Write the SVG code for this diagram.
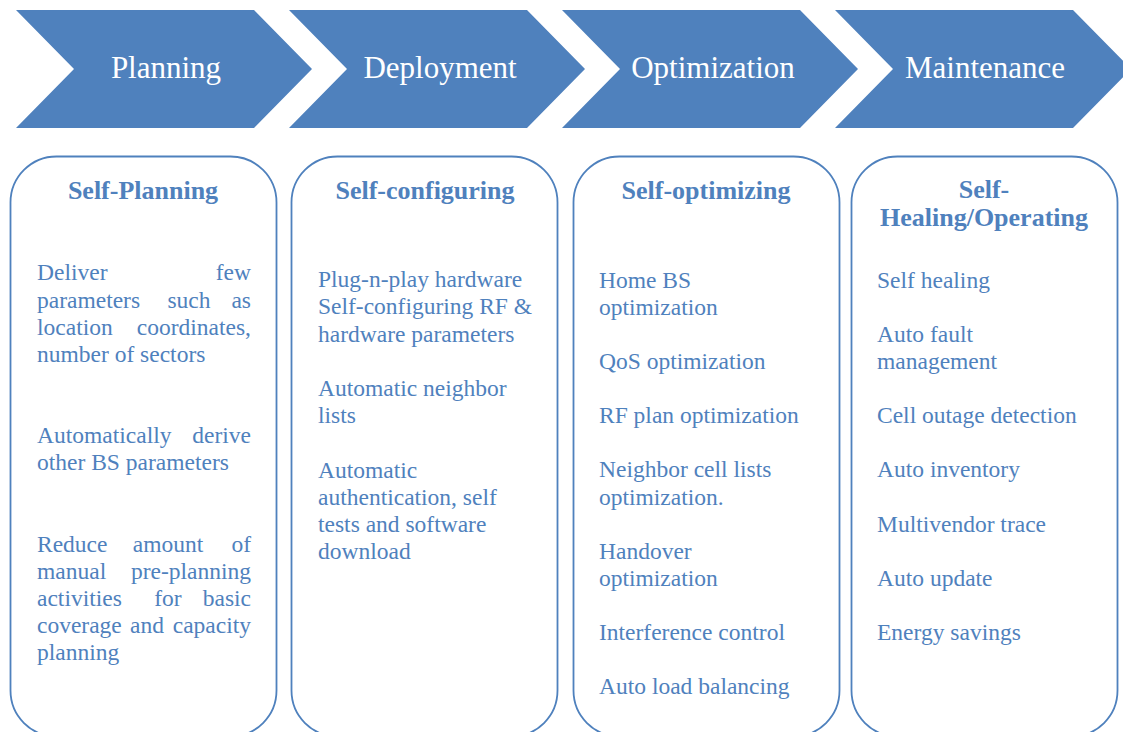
<svg xmlns="http://www.w3.org/2000/svg" width="1123" height="732" viewBox="0 0 1123 732">
<style>
.chev{fill:#4F81BD;}
.ct{font-family:"Liberation Serif",serif;font-size:31px;fill:#FFFFFF;text-anchor:middle;}
.box{fill:#FFFFFF;stroke:#4F81BD;stroke-width:1.8;}
.hd{font-family:"Liberation Serif",serif;font-size:26px;font-weight:bold;fill:#4F81BD;text-anchor:middle;}
.tx{font-family:"Liberation Serif",serif;font-size:23.5px;fill:#4F81BD;}
.e{text-anchor:end;}
.m{text-anchor:middle;}
</style>
<rect width="1123" height="732" fill="#FFFFFF"/>
<g id="stage-planning">
<polygon class="chev" points="16,10 254,10 312,69 254,128 16,128 74,69"/>
<text class="ct" x="166" y="78">Planning</text>
</g>
<g id="stage-deployment">
<polygon class="chev" points="289,10 527,10 585,69 527,128 289,128 347,69"/>
<text class="ct" x="440" y="78">Deployment</text>
</g>
<g id="stage-optimization">
<polygon class="chev" points="562,10 800,10 858,69 800,128 562,128 620,69"/>
<text class="ct" x="713" y="78">Optimization</text>
</g>
<g id="stage-maintenance">
<polygon class="chev" points="835,10 1073,10 1131,69 1073,128 835,128 893,69"/>
<text class="ct" x="985" y="78">Maintenance</text>
</g>
<g id="connectors"></g>
<g id="box-self-planning">
<rect class="box" x="10.5" y="156.5" width="266" height="580" rx="46" ry="46"/>
<text class="hd" x="143" y="199">Self-Planning</text>
<text class="tx" x="37" y="280">Deliver</text>
<text class="tx e" x="251" y="280">few</text>
<text class="tx" x="37" y="308">parameters</text>
<text class="tx m" x="189" y="308">such</text>
<text class="tx e" x="251" y="308">as</text>
<text class="tx" x="37" y="335">location</text>
<text class="tx e" x="251" y="335">coordinates,</text>
<text class="tx" x="37" y="362">number of sectors</text>
<text class="tx" x="37" y="443">Automatically</text>
<text class="tx e" x="251" y="443">derive</text>
<text class="tx" x="37" y="470">other BS parameters</text>
<text class="tx" x="37" y="552">Reduce</text>
<text class="tx m" x="168" y="552">amount</text>
<text class="tx e" x="251" y="552">of</text>
<text class="tx" x="37" y="579">manual</text>
<text class="tx e" x="251" y="579">pre-planning</text>
<text class="tx" x="37" y="606">activities</text>
<text class="tx m" x="168" y="606">for</text>
<text class="tx e" x="251" y="606">basic</text>
<text class="tx" x="37" y="633">coverage</text>
<text class="tx m" x="147" y="633">and</text>
<text class="tx e" x="251" y="633">capacity</text>
<text class="tx" x="37" y="660">planning</text>
</g>
<g id="box-self-configuring">
<rect class="box" x="291.5" y="156.5" width="266" height="580" rx="46" ry="46"/>
<text class="hd" x="425" y="199">Self-configuring</text>
<text class="tx" x="318" y="287">Plug-n-play hardware</text>
<text class="tx" x="318" y="314">Self-configuring RF &amp;</text>
<text class="tx" x="318" y="342">hardware parameters</text>
<text class="tx" x="318" y="396">Automatic neighbor</text>
<text class="tx" x="318" y="423">lists</text>
<text class="tx" x="318" y="478">Automatic</text>
<text class="tx" x="318" y="505">authentication, self</text>
<text class="tx" x="318" y="532">tests and software</text>
<text class="tx" x="318" y="559">download</text>
</g>
<g id="box-self-optimizing">
<rect class="box" x="573.5" y="156.5" width="266" height="580" rx="46" ry="46"/>
<text class="hd" x="706" y="199">Self-optimizing</text>
<text class="tx" x="599" y="288">Home BS</text>
<text class="tx" x="599" y="315">optimization</text>
<text class="tx" x="599" y="369">QoS optimization</text>
<text class="tx" x="599" y="423">RF plan optimization</text>
<text class="tx" x="599" y="477">Neighbor cell lists</text>
<text class="tx" x="599" y="505">optimization.</text>
<text class="tx" x="599" y="559">Handover</text>
<text class="tx" x="599" y="586">optimization</text>
<text class="tx" x="599" y="640">Interference control</text>
<text class="tx" x="599" y="694">Auto load balancing</text>
</g>
<g id="box-self-healing">
<rect class="box" x="851.5" y="156.5" width="266" height="580" rx="46" ry="46"/>
<text class="hd" x="984" y="198">Self-</text>
<text class="hd" x="984" y="226">Healing/Operating</text>
<text class="tx" x="877" y="288">Self healing</text>
<text class="tx" x="877" y="342">Auto fault</text>
<text class="tx" x="877" y="369">management</text>
<text class="tx" x="877" y="423">Cell outage detection</text>
<text class="tx" x="877" y="477">Auto inventory</text>
<text class="tx" x="877" y="532">Multivendor trace</text>
<text class="tx" x="877" y="586">Auto update</text>
<text class="tx" x="877" y="640">Energy savings</text>
</g>
</svg>
